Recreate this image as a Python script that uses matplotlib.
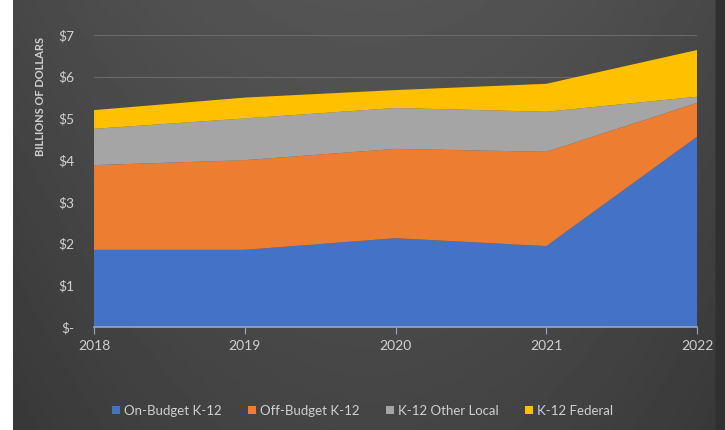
import numpy as np
import matplotlib
matplotlib.use("Agg")
import matplotlib.pyplot as plt
from matplotlib.patches import Patch

years = [2018, 2019, 2020, 2021, 2022]
on_budget = [1.85, 1.85, 2.13, 1.94, 4.56]
off_budget = [2.03, 2.15, 2.14, 2.26, 0.81]
other_local = [0.87, 1.00, 0.98, 0.96, 0.15]
federal = [0.45, 0.50, 0.43, 0.67, 1.12]

labels = ["On-Budget K-12", "Off-Budget K-12", "K-12 Other Local", "K-12 Federal"]
colors = ["#4472C4", "#ED7D31", "#A5A5A5", "#FFC000"]
yticks = [0, 1, 2, 3, 4, 5, 6, 7]
ytick_labels = ["$-", "$1", "$2", "$3", "$4", "$5", "$6", "$7"]

plt.rcParams["font.family"] = ["Lato", "DejaVu Sans"]
txt = "#d0d0d0"

fig = plt.figure(figsize=(7.25, 4.30), dpi=100)
fig.patch.set_facecolor("white")

# dark background: lighter near the top middle, darker at the bottom
bg = fig.add_axes([13 / 725, 0, 1 - 13 / 725, 1], zorder=-10)
xx = np.linspace(-1, 1, 300)
yy = np.linspace(-1, 1, 200)  # -1 = bottom (origin lower)
X, Y = np.meshgrid(xx, yy)
shade = 0.22 + 0.05 * (1 - X ** 2) + 0.06 * (Y + 1) / 2
shade[:, xx > 0.975] = 0.19
bg.imshow(shade, cmap="gray", vmin=0, vmax=1, aspect="auto",
          extent=[0, 1, 0, 1], origin="lower")
bg.axis("off")

ax = fig.add_axes([0.1297, 0.2395, 0.8317, 0.6791])
ax.set_facecolor("none")
ax.stackplot(years, on_budget, off_budget, other_local, federal,
             colors=colors, labels=labels, zorder=2, edgecolor="none")

ax.set_xlim(2018, 2022)
ax.set_ylim(0, 7)
ax.set_yticks(yticks)
ax.set_yticklabels(ytick_labels)
ax.set_xticks(years)
ax.grid(axis="y", color="#6a6a6a", lw=0.8, zorder=1)
for s in ["top", "right", "left"]:
    ax.spines[s].set_visible(False)
ax.spines["bottom"].set_color("#9aa6c0")
ax.spines["bottom"].set_linewidth(1.2)
ax.spines["bottom"].set_zorder(3)
ax.tick_params(axis="y", length=0, pad=14, labelcolor=txt, labelsize=10)
ax.tick_params(axis="x", length=5, color="#9aa6c0", pad=4, labelcolor=txt, labelsize=10)

fig.text(0.056, 0.775, "BILLIONS OF DOLLARS", rotation=90, color=txt,
         fontsize=8, fontweight="bold", ha="center", va="center")

handles = [Patch(facecolor=c, label=l) for c, l in zip(colors, labels)]
fig.legend(handles=handles, loc="center", bbox_to_anchor=(0.5, 0.045), ncol=4,
           frameon=False, fontsize=9.5, labelcolor=txt, handlelength=0.6,
           handleheight=0.6, handletextpad=0.3, columnspacing=2.0)

fig.savefig("out.png", dpi=100)
